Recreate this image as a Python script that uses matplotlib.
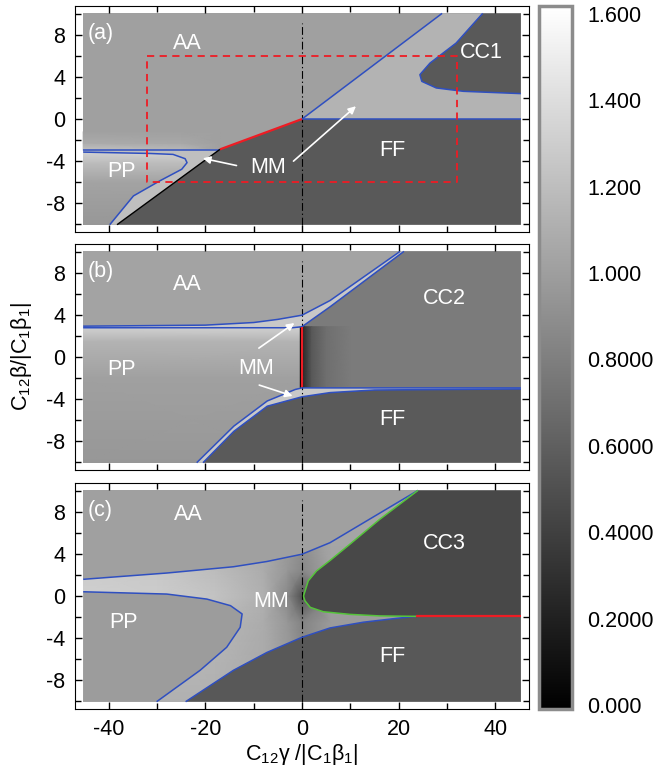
import numpy as np
import matplotlib
matplotlib.use('Agg')
import matplotlib.pyplot as plt
from matplotlib.colors import Normalize
from matplotlib.cm import ScalarMappable
from matplotlib.ticker import MultipleLocator

plt.rcParams['font.family'] = ['Liberation Sans', 'DejaVu Sans']
plt.rcParams['mathtext.default'] = 'regular'
plt.rcParams['axes.unicode_minus'] = False

# extent of the computed map
X0, X1, Y0, Y1 = -45.3, 45.3, -10.1, 10.1

# colour bar
cb_ticks = [0.0, 0.2, 0.4, 0.6, 0.8, 1.0, 1.2, 1.4, 1.6]
cb_labels = ['0.000', '0.2000', '0.4000', '0.6000', '0.8000', '1.000', '1.200', '1.400', '1.600']

# ---- panel (a) boundaries
a_ridge_x = [0, 29.0]
a_ridge_y = [0, 10.1]
a_ff_x = [0, -17.0, -38.3]
a_ff_y = [0, -2.9, -10.1]
a_cc1_x = [37.4, 31.9, 26.5, 24.4, 24.8, 27.8, 33.4, 45.3]
a_cc1_y = [10.1, 7.26, 5.35, 4.24, 3.6, 2.97, 2.65, 2.43]
a_pp_x = [-45.3, -31.5, -26.7, -24.2, -23.8, -24.9, -29.4, -34.9, -39.8]
a_pp_y = [-3.16, -3.29, -3.38, -3.79, -4.17, -4.8, -5.9, -7.35, -10.1]
a_pp_top = -3.0
a_box_x = [-32, 32, 32, -32, -32]
a_box_y = [6, 6, -6, -6, 6]
# region levels (colour-bar units)
a_aa, a_wedge, a_cc1, a_mm, a_ff = 1.0, 1.12, 0.56, 1.2, 0.56
# vertical shading inside PP
a_pp_sy = [-10.1, -6.0, -4.2, -3.16]
a_pp_sv = [0.95, 1.02, 1.18, 1.32]
# AA just above the PP line, read on a coarse grid
a_aa_gx = [-45.3, -25.0, -17.0]
a_aa_gy = [-3.0, -2.3, -1.2]
a_aa_row0 = [1.22, 1.16, 1.0]
a_aa_row1 = [1.07, 1.05, 1.0]
a_aa_row2 = [1.0, 1.0, 1.0]

# ---- panel (b) boundaries
b_u1_x = [-45.3, -20, -10, -5, 0, 5.8, 20.3]
b_u1_y = [2.95, 3.05, 3.3, 3.6, 4.0, 5.4, 10.1]
b_u2_x = [-45.3, -20, -2, 0, 5.8, 21.1]
b_u2_y = [2.8, 2.8, 2.8, 2.9, 4.8, 10.1]
b_l1_x = [-20.5, -14.1, -7.2, 0, 5.8, 15, 45.3]
b_l1_y = [-10.1, -7.1, -4.7, -3.8, -3.4, -3.15, -3.05]
b_l2_x = [-21.8, -14.1, -7.2, -1.4, 0, 45.3]
b_l2_y = [-10.1, -6.6, -4.2, -3.1, -2.95, -2.95]
b_aa, b_band, b_cc2, b_ff = 1.02, 1.25, 0.77, 0.565
# shading: dark edge of CC2 next to x = 0, and PP below the upper lines
b_cc2_sx = [0, 0.4, 2.0, 5.0, 10.0]
b_cc2_sv = [0.1, 0.3, 0.55, 0.7, 0.77]
b_pp_sy = [-10.1, -2.0, 1.5, 2.8]
b_pp_sv = [0.95, 1.0, 1.12, 1.3]

# ---- panel (c) boundaries
c_u_x = [-45.3, -28.0, -14.2, -7.3, 0, 5.8, 24.0]
c_u_y = [1.6, 2.2, 2.8, 3.3, 4.0, 5.1, 10.1]
c_pp_x = [-45.3, -28.0, -19.7, -14.8, -12.4, -12.8, -15.6, -21.1, -30.1]
c_pp_y = [0.41, 0.19, -0.29, -0.92, -1.71, -2.99, -4.9, -7.1, -10.1]
c_l_x = [-24.1, -14.2, -7.3, 0, 5.8, 12.7, 19.6, 23.6]
c_l_y = [-10.1, -7.1, -5.4, -3.94, -3.05, -2.5, -2.13, -1.94]
c_gu_x = [0.3, 1.3, 3.0, 5.8, 9.9, 16.0, 24.0]
c_gu_y = [0, 1.46, 2.4, 3.4, 4.95, 7.3, 10.1]
c_gl_x = [0.3, 0.6, 1.7, 4.4, 9.9, 16.1, 23.6]
c_gl_y = [0, -0.45, -1.08, -1.5, -1.75, -1.9, -1.94]
c_aa, c_pp, c_cc3, c_ff = 1.0, 0.98, 0.45, 0.55
# shading of the MM channel, read on a coarse grid
c_mm_gx = [-45.3, -30, -18, -8, -3, 0, 6, 45.3]
c_mm_gy = [-10.1, -2.5, 0, 2.5, 10.1]
c_mm_row0 = [1.1, 1.1, 1.1, 1.05, 1.0, 0.95, 0.98, 1.0]
c_mm_row1 = [1.2, 1.2, 1.15, 1.08, 0.95, 0.82, 0.97, 1.0]
c_mm_row2 = [1.3, 1.28, 1.22, 1.1, 0.85, 0.5, 1.0, 1.05]
c_mm_row3 = [1.28, 1.25, 1.18, 1.08, 0.95, 0.85, 1.02, 1.05]
c_mm_row4 = [1.1, 1.1, 1.1, 1.05, 1.0, 1.0, 1.05, 1.05]

cmap = plt.get_cmap('gray')
norm = Normalize(0, 1.6)
BLUE = '#2f4fc0'
RED = '#ee1c24'
GREEN = '#55c43a'
LBL = 15.5


def region(ax, xs, ys, val, clip=None):
    p = ax.fill(xs, ys, color=cmap(norm(val)), lw=0, zorder=1)[0]
    if clip is not None:
        p.set_clip_path(clip)
    return p


def shade(ax, xs, ys, c, clip=None):
    m = ax.pcolormesh(xs, ys, np.asarray(c), shading='gouraud', cmap=cmap, norm=norm, zorder=1)
    if clip is not None:
        m.set_clip_path(clip)


def shade_x(ax, xs, vals, y0, y1, clip=None):
    shade(ax, xs, [y0, y1], [vals, vals], clip)


def shade_y(ax, ys, vals, x0, x1, clip=None):
    shade(ax, [x0, x1], ys, np.array([vals, vals]).T, clip)


def line(ax, xs, ys, c=BLUE, lw=1.1):
    ax.plot(xs, ys, color=c, lw=lw, zorder=4, solid_capstyle='butt')


def label(ax, x, y, s):
    ax.text(x, y, s, color='white', fontsize=LBL, ha='center', va='center', zorder=6)


def arrow(ax, tail, head):
    ax.annotate('', xy=head, xytext=tail, zorder=6,
                arrowprops=dict(arrowstyle='-|>', color='white', lw=1.2, mutation_scale=11))


fig = plt.figure(figsize=(6.6, 7.76), dpi=100)
ax_a = fig.add_axes([0.1136, 0.7010, 0.688, 0.2912])
ax_b = fig.add_axes([0.1136, 0.3943, 0.688, 0.2912])
ax_c = fig.add_axes([0.1136, 0.0863, 0.688, 0.2912])
cax = fig.add_axes([0.8167, 0.0863, 0.05, 0.906])

for ax in (ax_a, ax_b, ax_c):
    ax.set_xlim(-47, 47)
    ax.set_ylim(-10.8, 10.8)
    ax.xaxis.set_major_locator(MultipleLocator(20))
    ax.xaxis.set_minor_locator(MultipleLocator(10))
    ax.yaxis.set_major_locator(MultipleLocator(4))
    ax.yaxis.set_minor_locator(MultipleLocator(2))
    ax.tick_params(which='both', direction='in', top=True, right=True, labelsize=15.5, pad=7, width=1)
    ax.tick_params(which='major', length=5)
    ax.tick_params(which='minor', length=4)
    ax.plot([0, 0], [Y0, 9.2], color='black', lw=0.8, ls=(0, (7, 2.5, 1.2, 2.5)), zorder=3)
ax_a.tick_params(labelbottom=False)
ax_b.tick_params(labelbottom=False)

# ---------------- (a)
ax = ax_a
region(ax, [X0, X1, X1, X0], [Y0, Y0, Y1, Y1], a_aa)
shade(ax, a_aa_gx, a_aa_gy, [a_aa_row0, a_aa_row1, a_aa_row2])
region(ax, [0, a_ridge_x[-1], X1, X1], [0, Y1, Y1, 0], a_wedge)
region(ax, a_cc1_x + [X1], a_cc1_y + [Y1], a_cc1)
region(ax, [X0, a_ff_x[1]] + a_ff_x[2:] + [X0], [a_pp_top, a_ff_y[1]] + a_ff_y[2:] + [Y0], a_mm)
pp = region(ax, a_pp_x + [X0], a_pp_y + [Y0], a_pp_sv[0])
shade_y(ax, a_pp_sy, a_pp_sv, X0, -20, pp)
region(ax, [X1] + a_ff_x + [X1], [0] + a_ff_y + [Y0], a_ff)
line(ax, a_ridge_x, a_ridge_y)
line(ax, [0, X1], [0, 0])
line(ax, a_cc1_x, a_cc1_y)
line(ax, [X0, a_ff_x[1]], [a_pp_top, a_pp_top])
line(ax, a_pp_x, a_pp_y)
line(ax, a_ff_x[:2], a_ff_y[:2], c=RED, lw=1.6)
line(ax, a_ff_x[1:], a_ff_y[1:], c='black', lw=1.0)
ax.plot(a_box_x, a_box_y, color=RED, lw=1.3, ls=(0, (4, 3)), zorder=5)
ax.text(-44.3, 8.2, '(a)', color='white', fontsize=LBL, ha='left', va='center', zorder=6)
label(ax, -23.8, 7.2, 'AA')
label(ax, 37.2, 6.4, 'CC1')
label(ax, -37.3, -5.0, 'PP')
label(ax, -7.0, -4.6, 'MM')
label(ax, 18.8, -3.0, 'FF')
arrow(ax, (-13.0, -4.5), (-21.1, -3.7))
arrow(ax, (-2.2, -4.2), (11.6, 1.4))

# ---------------- (b)
ax = ax_b
region(ax, [X0, X1, X1, X0], [Y0, Y0, Y1, Y1], b_aa)
region(ax, b_u1_x + b_u2_x[::-1], b_u1_y + b_u2_y[::-1], b_band)
u2x, u2y = np.array(b_u2_x), np.array(b_u2_y)
l2x, l2y = np.array(b_l2_x), np.array(b_l2_y)
left_u2, right_u2 = u2x <= 0, u2x >= 0
left_l2, right_l2 = l2x <= 0, l2x >= 0
pp = region(ax, list(u2x[left_u2]) + list(l2x[left_l2][::-1]) + [X0],
            list(u2y[left_u2]) + list(l2y[left_l2][::-1]) + [Y0], b_pp_sv[0])
shade_y(ax, b_pp_sy, b_pp_sv, X0, 0, pp)
cc2 = region(ax, list(u2x[right_u2]) + [X1, X1] + list(l2x[right_l2][::-1]),
             list(u2y[right_u2]) + [Y1, -2.95] + list(l2y[right_l2][::-1]), b_cc2)
shade_x(ax, b_cc2_sx, b_cc2_sv, -2.95, 2.9, cc2)
region(ax, b_l2_x + b_l1_x[::-1], b_l2_y + b_l1_y[::-1], b_band)
region(ax, b_l1_x + [X1], b_l1_y + [Y0], b_ff)
for xs, ys in ((b_u1_x, b_u1_y), (b_u2_x, b_u2_y), (b_l1_x, b_l1_y), (b_l2_x, b_l2_y)):
    line(ax, xs, ys)
line(ax, [-0.35, -0.35], [-2.9, 2.9], c='black', lw=1.0)
line(ax, [0.1, 0.1], [-2.9, 2.9], c=RED, lw=1.6)
ax.text(-44.3, 8.2, '(b)', color='white', fontsize=LBL, ha='left', va='center', zorder=6)
label(ax, -23.8, 6.9, 'AA')
label(ax, 29.4, 5.6, 'CC2')
label(ax, -37.3, -1.2, 'PP')
label(ax, -9.5, -1.1, 'MM')
label(ax, 18.8, -6.0, 'FF')
arrow(ax, (-9.4, 0.7), (-1.1, 3.4))
arrow(ax, (-9.4, -2.6), (-1.4, -3.8))

# ---------------- (c)
ax = ax_c
region(ax, [X0, X1, X1, X0], [Y0, Y0, Y1, Y1], c_aa)
ch = region(ax, c_u_x + [X1, X1] + c_l_x[::-1] + [X0],
            c_u_y + [Y1, c_l_y[-1]] + c_l_y[::-1] + [Y0], c_mm_row2[-1])
shade(ax, c_mm_gx, c_mm_gy, [c_mm_row0, c_mm_row1, c_mm_row2, c_mm_row3, c_mm_row4], ch)
region(ax, c_pp_x + [X0], c_pp_y + [Y0], c_pp)
region(ax, c_gu_x[::-1] + c_gl_x[1:] + [X1, X1], c_gu_y[::-1] + c_gl_y[1:] + [c_gl_y[-1], Y1], c_cc3)
region(ax, c_l_x + [X1, X1], c_l_y + [c_l_y[-1], Y0], c_ff)
line(ax, c_u_x, c_u_y)
line(ax, c_pp_x, c_pp_y)
line(ax, c_l_x, c_l_y)
line(ax, c_gu_x, c_gu_y, c=GREEN)
line(ax, c_gl_x, c_gl_y, c=GREEN)
line(ax, [c_l_x[-1], X1], [c_l_y[-1], c_l_y[-1]], c=RED, lw=1.6)
ax.text(-44.3, 8.2, '(c)', color='white', fontsize=LBL, ha='left', va='center', zorder=6)
label(ax, -23.6, 7.8, 'AA')
label(ax, 29.4, 5.0, 'CC3')
label(ax, -37.0, -2.5, 'PP')
label(ax, -6.3, -0.5, 'MM')
label(ax, 18.8, -5.75, 'FF')

# ---------------- colour bar (tick labels sit a little inside the bar ends)
sm = ScalarMappable(norm=Normalize(-0.0093, 1.6185), cmap=cmap)
cb = fig.colorbar(sm, cax=cax, ticks=cb_ticks)
cb.ax.set_yticklabels(cb_labels)
cb.ax.tick_params(length=0, labelsize=15.5, pad=11)
cb.outline.set_edgecolor('#8c8c8c')
cb.outline.set_linewidth(2.5)

fig.text(0.4576, 0.028, 'C$_{12}$γ /|C$_1$β$_1$|', fontsize=15.5, ha='center', va='center')
fig.text(0.032, 0.54, 'C$_{12}$β/|C$_1$β$_1$|', fontsize=15.5, ha='center', va='center', rotation=90)

fig.savefig('out.png', dpi=100)
